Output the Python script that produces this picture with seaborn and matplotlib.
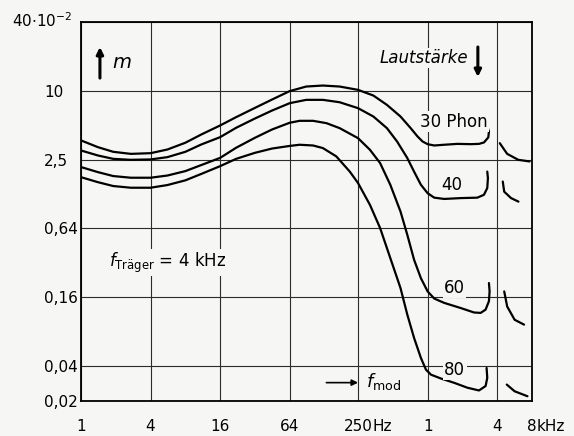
import numpy as np
import pandas as pd
import matplotlib
matplotlib.use("Agg")
import matplotlib.pyplot as plt
from matplotlib.ticker import NullLocator
import seaborn as sns

# values: modulation frequency in Hz, m in units of 10^-2
phon30_f = [1, 1.4, 1.9, 2.7, 4, 5.6, 8, 11, 16, 22, 32, 45, 64, 89, 124, 173, 250, 339, 444, 582, 713, 817, 904, 1000, 1141, 1391, 1812, 2359, 2782, 3072, 3350, 3393, 3281]
phon30_m = [3.72, 3.25, 2.96, 2.84, 2.88, 3.10, 3.55, 4.19, 5.02, 5.93, 7.14, 8.44, 10.0, 10.96, 11.18, 10.96, 10.25, 9.15, 7.59, 6.01, 4.76, 4.03, 3.64, 3.45, 3.36, 3.41, 3.47, 3.45, 3.47, 3.57, 3.95, 4.45, 4.92]

phon40_f = [1, 1.4, 1.9, 2.7, 4, 5.6, 8, 11, 16, 22, 32, 45, 64, 89, 124, 173, 250, 339, 444, 544, 667, 763, 874, 1000, 1141, 1391, 1935, 2691, 3072, 3281, 3325, 3281]
phon40_m = [3.04, 2.75, 2.57, 2.52, 2.54, 2.66, 2.96, 3.43, 3.97, 4.79, 5.77, 6.77, 7.85, 8.39, 8.39, 8.0, 7.10, 6.01, 4.76, 3.64, 2.61, 1.99, 1.53, 1.29, 1.18, 1.15, 1.17, 1.18, 1.25, 1.43, 1.75, 1.99]

phon60_f = [1, 1.4, 1.9, 2.7, 4, 5.6, 8, 11, 16, 22, 32, 45, 64, 78, 102, 133, 173, 250, 317, 388, 475, 582, 667, 763, 874, 1000, 1141, 1391, 1935, 2520, 2876, 3175, 3393, 3437, 3393]
phon60_m = [2.18, 1.97, 1.82, 1.76, 1.76, 1.84, 2.01, 2.27, 2.62, 3.21, 3.92, 4.63, 5.3, 5.51, 5.51, 5.26, 4.76, 3.89, 3.08, 2.36, 1.53, 0.895, 0.560, 0.340, 0.235, 0.180, 0.156, 0.143, 0.129, 0.118, 0.117, 0.125, 0.148, 0.180, 0.213]

phon80_f = [1, 1.4, 1.9, 2.7, 4, 5.6, 8, 11, 16, 22, 32, 45, 64, 78, 102, 124, 162, 212, 250, 317, 388, 475, 582, 667, 763, 874, 967, 1069, 1302, 1696, 2208, 2782, 3175, 3281, 3238]
phon80_m = [1.78, 1.61, 1.49, 1.44, 1.44, 1.52, 1.67, 1.90, 2.22, 2.57, 2.90, 3.16, 3.33, 3.41, 3.36, 3.19, 2.70, 1.99, 1.58, 1.02, 0.641, 0.352, 0.193, 0.113, 0.0709, 0.0475, 0.0375, 0.0339, 0.0314, 0.0288, 0.0261, 0.0247, 0.0270, 0.0318, 0.0388]

# short pieces right of 4 kHz
seg30_f = [4210, 4880, 6090, 7630]
seg30_m = [3.52, 2.84, 2.52, 2.44]
seg40_f = [4470, 4600, 5270, 6110]
seg40_m = [1.63, 1.33, 1.17, 1.09]
seg60_f = [4600, 4880, 5660, 6830]
seg60_m = [0.18, 0.133, 0.102, 0.0925]
seg80_f = [4840, 5660, 7310]
seg80_m = [0.0278, 0.0243, 0.022]

x_ticks = [1, 4, 16, 64, 250, 1000, 4000, 8000]
x_labels = ["1", "4", "16", "64", "250", "1", "4", "8"]
y_ticks = [0.02, 0.04, 0.16, 0.64, 2.5, 10, 40]
y_labels = ["0,02", "0,04", "0,16", "0,64", "2,5", "10", ""]

curve_labels = ["30 Phon", "40", "60", "80"]
label_f = [1700, 1630, 1710, 1720]
label_m = [5.4, 1.53, 0.194, 0.0375]

sns.set_theme(style="white")
plt.rcParams['font.family'] = ['DejaVu Sans']
plt.rcParams['mathtext.fontset'] = 'dejavusans'
plt.rcParams['text.color'] = 'black'

bg = '#f6f7f5'
fig = plt.figure(figsize=(5.74, 4.36), dpi=100)
fig.patch.set_facecolor(bg)
ax = fig.add_axes([0.1411, 0.0803, 0.7857, 0.8693])
ax.set_facecolor(bg)

curves = [(phon30_f, phon30_m), (phon40_f, phon40_m), (phon60_f, phon60_m), (phon80_f, phon80_m),
          (seg30_f, seg30_m), (seg40_f, seg40_m), (seg60_f, seg60_m), (seg80_f, seg80_m)]
for f, m in curves:
    sns.lineplot(x=f, y=m, ax=ax, color='black', lw=1.6, sort=False, estimator=None)

ax.set_xscale('log', base=2)
ax.set_yscale('log', base=2)
ax.set_xlim(1, 8000)
ax.set_ylim(0.02, 40)
ax.set_xticks(x_ticks)
ax.set_xticklabels(x_labels)
ax.set_yticks(y_ticks)
ax.set_yticklabels(y_labels)
ax.xaxis.set_minor_locator(NullLocator())
ax.yaxis.set_minor_locator(NullLocator())
ax.tick_params(length=0, labelsize=11, colors='black', labelcolor='black')
ax.tick_params(axis='x', pad=13)
ax.tick_params(axis='y', pad=26.5)
for lbl in ax.get_yticklabels():
    lbl.set_horizontalalignment('left')

ax.grid(True, color='#2b2b2b', lw=0.8)
ax.set_axisbelow(True)
for s in ax.spines.values():
    s.set_color('black')
    s.set_linewidth(1.3)

# top y label and units behind x labels
ax.annotate(r"40$\cdot$10$^{-2}$", xy=(0, 40), xycoords=('axes fraction', 'data'),
            xytext=(-6, 1), textcoords='offset points', ha='right', va='center', fontsize=11)
ax.annotate("Hz", xy=(250, 0), xycoords=('data', 'axes fraction'),
            xytext=(10.5, -13), textcoords='offset points', ha='left', va='top', fontsize=11)
ax.annotate("kHz", xy=(8000, 0), xycoords=('data', 'axes fraction'),
            xytext=(3.5, -13), textcoords='offset points', ha='left', va='top', fontsize=11,
            annotation_clip=False)

box = dict(facecolor=bg, edgecolor='none', pad=1.0)
for txt, f, m in zip(curve_labels, label_f, label_m):
    ax.text(f, m, txt, ha='center', va='center', fontsize=12, bbox=box)

# m arrow, top left
ax.annotate('', xy=(0.042, 0.934), xytext=(0.042, 0.852), xycoords='axes fraction',
            arrowprops=dict(arrowstyle='-|>', color='black', lw=2.2, mutation_scale=10, shrinkA=0, shrinkB=0))
ax.text(0.091, 0.894, "m", transform=ax.transAxes, ha='center', va='center', fontsize=14, style='italic')

# Lautstaerke arrow, top right
ax.text(0.760, 0.905, "Lautstärke", transform=ax.transAxes, ha='center', va='center',
        fontsize=12, style='italic', bbox=box)
ax.annotate('', xy=(0.880, 0.855), xytext=(0.880, 0.934), xycoords='axes fraction',
            arrowprops=dict(arrowstyle='-|>', color='black', lw=2.2, mutation_scale=10, shrinkA=0, shrinkB=0))

ax.text(1.76, 0.32, r"$f_{\mathrm{Träger}}$ = 4 kHz", ha='left', va='center', fontsize=12, bbox=box)

ax.annotate('', xy=(250, 0.0289), xytext=(133, 0.0289),
            arrowprops=dict(arrowstyle='-|>', color='black', lw=1.2, mutation_scale=9, shrinkA=0, shrinkB=0))
ax.text(293, 0.0295, r"$f_{\mathrm{mod}}$", ha='left', va='center', fontsize=13, bbox=box)

fig.savefig("out.png", dpi=100, facecolor=bg)
